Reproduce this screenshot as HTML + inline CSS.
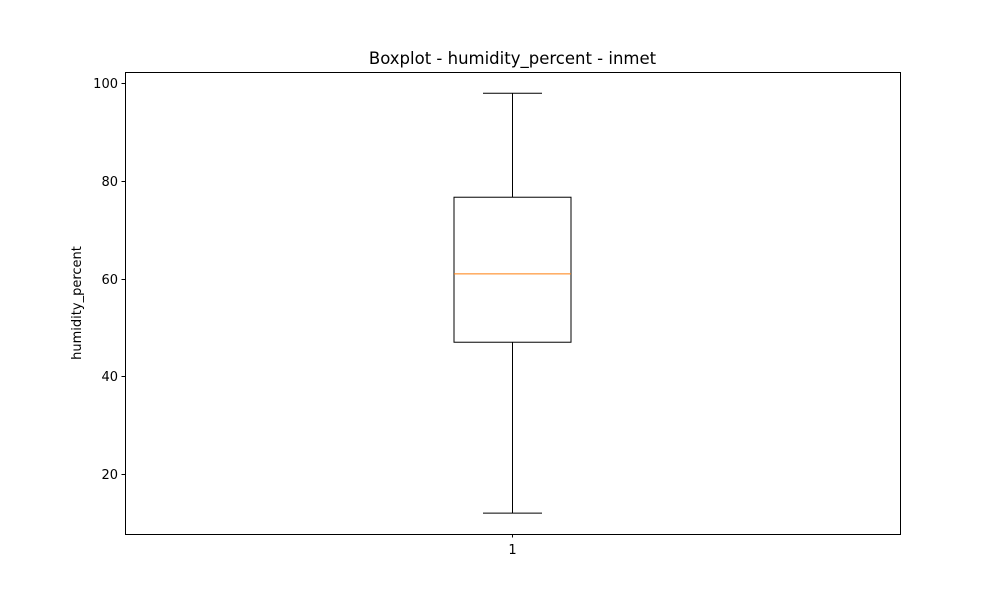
<!DOCTYPE html>
<html><head><meta charset="utf-8"><style>
body{margin:0;background:#fff;}
svg{display:block;font-family:"DejaVu Sans","Liberation Sans",sans-serif;}
</style></head><body>
<svg id="chart" width="1000" height="600" viewBox="0 0 1000 600">
<rect width="1000" height="600" fill="#fff"/>
<text x="512.5" y="64" font-size="16.5" text-anchor="middle">Boxplot - humidity_percent - inmet</text>
<text transform="translate(81,303) rotate(-90)" font-size="13" text-anchor="middle">humidity_percent</text>
<g id="yticks"></g>
<g id="xticks"></g>
<g id="marks"></g>
<rect x="125.5" y="72.5" width="775" height="462" fill="none" stroke="#000" stroke-width="1"/>
</svg>
<script>
const categories = ["1"];
const whiskerLow = [12];
const q1 = [47];
const median = [61];
const q3 = [76.7];
const whiskerHigh = [98];
const yTickValues = [20, 40, 60, 80, 100];

const NS = "http://www.w3.org/2000/svg";
const yMin = 7.72, yMax = 102.35, plotTop = 72, plotBottom = 534, plotLeft = 125, plotRight = 900;
function yScale(v){ return plotBottom - (v - yMin) / (yMax - yMin) * (plotBottom - plotTop); }
function xScale(i){ return plotLeft + (plotRight - plotLeft) * (i + 0.5) / categories.length; }
function mk(tag, attrs, parent){ const e = document.createElementNS(NS, tag); for (const k in attrs) e.setAttribute(k, attrs[k]); parent.appendChild(e); return e; }

const yt = document.getElementById('yticks');
yTickValues.forEach(v => {
  const y = Math.round(yScale(v)) + 0.5;
  const l = mk('line', {x1: plotLeft - 3.5, x2: plotLeft, y1: y, y2: y, stroke: '#000'}, yt);
  
  
  const t = mk('text', {x: plotLeft - 7, y: y + 4.5, 'font-size': 13, 'text-anchor': 'end'}, yt);
  t.textContent = v;
  
  
});

const xt = document.getElementById('xticks');
const mg = document.getElementById('marks');
categories.forEach((c, i) => {
  const x = xScale(i);
  const l = mk('line', {x1: x, x2: x, y1: plotBottom, y2: plotBottom + 3.5, stroke: '#000'}, xt);
  
  
  const t = mk('text', {x: x, y: plotBottom + 20, 'font-size': 13, 'text-anchor': 'middle'}, xt);
  t.textContent = c;
  
  

  const hw = 58.5, cw = 29.5;
  const yq1 = yScale(q1[i]), yq3 = yScale(q3[i]), ym = yScale(median[i]);
  const ylo = yScale(whiskerLow[i]), yhi = yScale(whiskerHigh[i]);
  const w1 = mk('line', {x1: x, x2: x, y1: yq3, y2: yhi, stroke: '#000'}, mg);
  
  
  const w2 = mk('line', {x1: x, x2: x, y1: yq1, y2: ylo, stroke: '#000'}, mg);
  
  
  const c1 = mk('line', {x1: x - cw, x2: x + cw, y1: yhi, y2: yhi, stroke: '#000'}, mg);
  
  
  const c2 = mk('line', {x1: x - cw, x2: x + cw, y1: ylo, y2: ylo, stroke: '#000'}, mg);
  
  
  const b = mk('rect', {x: x - hw, y: yq3, width: 2 * hw, height: yq1 - yq3, fill: 'none', stroke: '#000'}, mg);
  
  
  const m = mk('line', {x1: x - hw, x2: x + hw, y1: ym, y2: ym, stroke: '#ff7f0e'}, mg);
  
  
});
</script>
</body></html>
